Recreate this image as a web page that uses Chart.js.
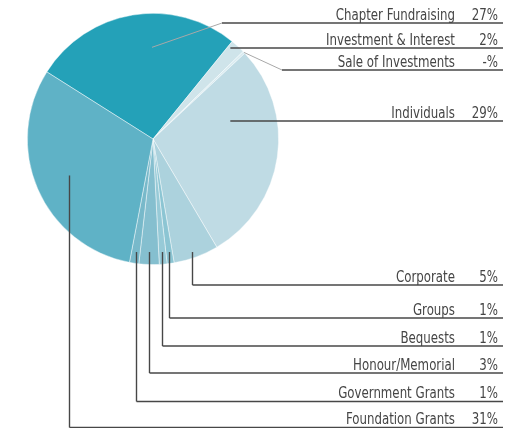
<!DOCTYPE html>
<html>
<head>
<meta charset="utf-8">
<script src="https://cdn.jsdelivr.net/npm/chart.js@4"></script>
<style>
html,body{margin:0;padding:0;background:#fff;}
#wrap{position:relative;width:524px;height:428px;}
</style>
</head>
<body>
<div id="wrap"><canvas id="c" width="524" height="428"></canvas></div>
<script>
const categories = ['Chapter Fundraising','Investment & Interest','Sale of Investments','Individuals','Corporate','Groups','Bequests','Honour/Memorial','Government Grants','Foundation Grants'];
const values = [26.9, 1.9, 0.3, 28.5, 5.8, 0.9, 1.0, 2.6, 1.2, 31.0];
const pctLabels = ['27%','2%','-%','29%','5%','1%','1%','3%','1%','31%'];
const colors = ['#24a1b8','#cfe4ea','#d9ebf0','#bfdbe4','#acd2dd','#8cc5d3','#97cad7','#85bfcf','#78b9ca','#5fb2c6'];

// leader layout (label line y, anchor fraction within slice, radius factor, mode, elbow x)
const leaders = [
  {lineY:23,  frac:0.59, rf:0.73, mode:'d', elbowX:222},
  {lineY:48,  frac:0.2,  rf:0.95, mode:'h'},
  {lineY:70,  frac:0.5,  rf:1.0,  mode:'d', elbowX:282},
  {lineY:121, frac:0.3,  rf:0.63, mode:'h'},
  {lineY:285, frac:0.5,  rf:0.9,  mode:'v'},
  {lineY:318, frac:0.5,  rf:0.9,  mode:'v'},
  {lineY:346, frac:0.5,  rf:0.9,  mode:'v'},
  {lineY:373, frac:0.5,  rf:0.9,  mode:'v'},
  {lineY:401.5, frac:0.5,rf:0.9,  mode:'v'},
  {lineY:427.5, frac:0.5,rf:0.73, mode:'v2'}
];

function drawNarrow(ctx, text, rightX, y, sx){
  const w = ctx.measureText(text).width;
  ctx.save();
  ctx.translate(rightX - w * sx, y);
  ctx.scale(sx, 1);
  ctx.textAlign = 'left';
  ctx.fillText(text, 0, 0);
  ctx.restore();
}

const leaderPlugin = {
  id:'leaders',
  afterDraw(chart){
    const ctx = chart.ctx;
    const meta = chart.getDatasetMeta(0);
    const lineEnd = 503, nameX = 455, pctX = 498;
    ctx.save();
    meta.data.forEach((arc, i) => {
      const L = leaders[i];
      const p = arc.getProps(['x','y','startAngle','endAngle','outerRadius'], true);
      const a = p.startAngle + (p.endAngle - p.startAngle) * L.frac;
      const r = p.outerRadius * L.rf;
      let ax = p.x + r * Math.cos(a), ay = p.y + r * Math.sin(a);
      let hStart;
      if (L.mode === 'd') {
        ctx.strokeStyle = '#a8a8a8';
        ctx.lineWidth = 1;
        ctx.beginPath(); ctx.moveTo(ax, ay); ctx.lineTo(L.elbowX, L.lineY); ctx.stroke();
        hStart = L.elbowX;
      } else if (L.mode === 'h') {
        hStart = ax;
      } else {
        if (L.mode === 'v') ay = p.y + p.outerRadius * 0.9;
        const vx = Math.round(ax) + 0.5;
        ctx.strokeStyle = '#474747';
        ctx.lineWidth = 1.4;
        ctx.beginPath(); ctx.moveTo(vx, ay); ctx.lineTo(vx, L.lineY); ctx.stroke();
        hStart = vx;
      }
      ctx.strokeStyle = '#474747';
      ctx.lineWidth = 1.4;
      ctx.beginPath(); ctx.moveTo(hStart, L.lineY); ctx.lineTo(lineEnd, L.lineY); ctx.stroke();
      ctx.fillStyle = '#454545';
      ctx.font = '15px "Liberation Sans Narrow", "DejaVu Sans Condensed", sans-serif';
      ctx.textBaseline = 'alphabetic';
      drawNarrow(ctx, chart.data.labels[i], nameX, L.lineY - 3.5, 0.875);
      drawNarrow(ctx, pctLabels[i], pctX, L.lineY - 3.5, 0.875);
    });
    ctx.restore();
  }
};

new Chart(document.getElementById('c'), {
  type:'pie',
  data:{
    labels: categories,
    datasets:[{
      data: values,
      backgroundColor: colors,
      borderColor: 'rgba(255,255,255,0.55)',
      borderWidth: 0.8
    }]
  },
  options:{
    responsive:false,
    animation:false,
    rotation:-57.7,
    layout:{padding:{left:27, top:13, right:245, bottom:163}},
    plugins:{legend:{display:false}, tooltip:{enabled:false}}
  },
  plugins:[leaderPlugin]
});
</script>
</body>
</html>
